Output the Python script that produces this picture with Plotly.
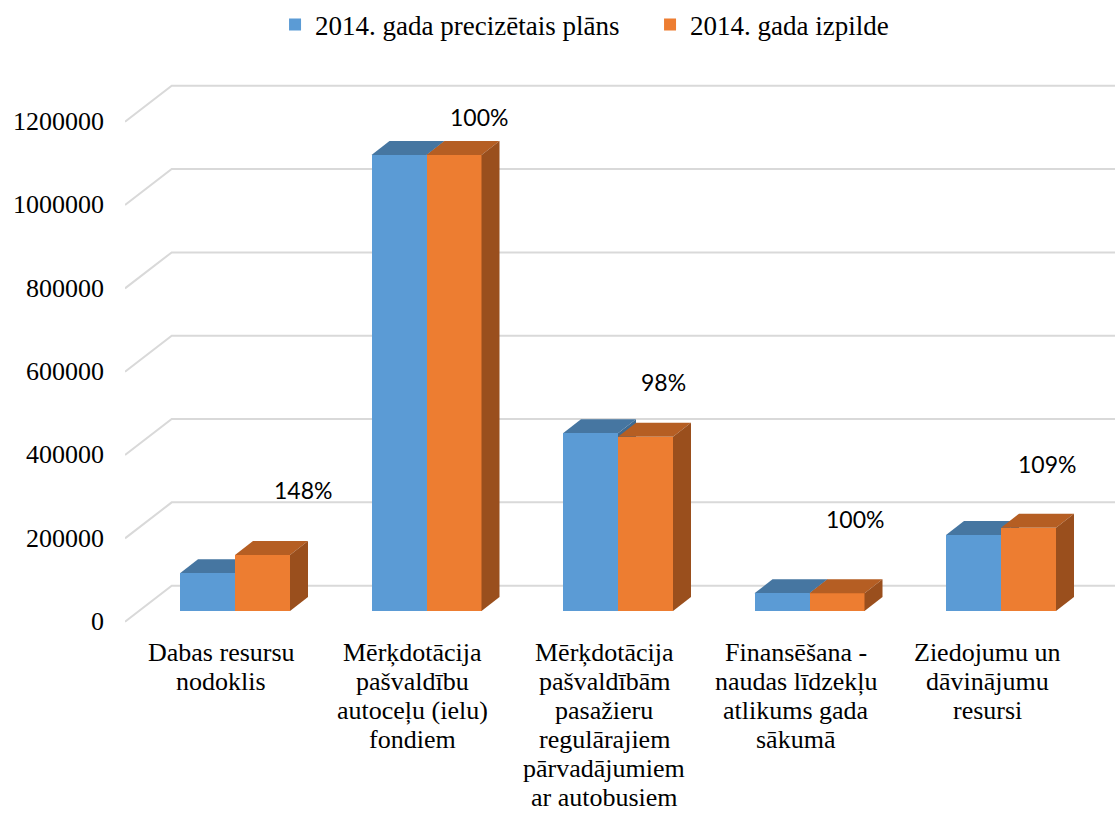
import plotly.graph_objects as go

# ---------------- data ----------------
category_lines = [
    ["Dabas resursu", "nodoklis"],
    ["Mērķdotācija", "pašvaldību", "autoceļu (ielu)", "fondiem"],
    ["Mērķdotācija", "pašvaldībām", "pasažieru", "regulārajiem", "pārvadājumiem", "ar autobusiem"],
    ["Finansēšana -", "naudas līdzekļu", "atlikums gada", "sākumā"],
    ["Ziedojumu un", "dāvinājumu", "resursi"],
]
series_names = ["2014. gada precizētais plāns", "2014. gada izpilde"]
plan_2014 = [90500, 1094400, 426500, 42500, 182400]
exec_2014 = [134300, 1094400, 418300, 42500, 199900]
pct_labels = ["148%", "100%", "98%", "100%", "109%"]
y_ticks = [0, 200000, 400000, 600000, 800000, 1000000, 1200000]

# ---------------- geometry (pixels) ----------------
W, H = 1115, 814
PLOT_L, PLOT_R, PLOT_T, PLOT_B = 125, 1115, 60, 640
BASE_PX = 611                 # pixel row of value 0 on bar front faces
K = 83.33 / 200000            # pixels per value unit
FIRST_CENTER_PX = 235
STEP_PX = 191.5
BAR_PX = 55
DEPTH_DX, DEPTH_DY = 18, 14   # bar depth projection
WALL_X_PX = 171.7             # back-wall left edge
WALL_UP_PX = 25.3             # back wall 0 line above bar base
DIAG_DY = 36                  # vertical drop of floor/side diagonals
CAT_FIRST_LINE_PX = 652
CAT_LINE_STEP = 29

LABEL_XSHIFT = [40, 25, 18, 18, 18]
LABEL_YSHIFT = [65, 38, 55, 74, 64]

C_BLUE, C_BLUE_TOP, C_BLUE_SIDE = "#5B9BD5", "#4676A1", "#3E6A91"
C_ORG, C_ORG_TOP, C_ORG_SIDE = "#ED7D31", "#B55E23", "#9A4F1D"
GRID = "#D9D9D9"
SERIF = "Liberation Serif, Times New Roman, serif"


def xu(px):
    return (px - FIRST_CENTER_PX) / STEP_PX


def yu_off(px):
    return px / K


bw = BAR_PX / STEP_PX
ddx = DEPTH_DX / STEP_PX
ddy = yu_off(DEPTH_DY)
x_idx = list(range(len(plan_2014)))

fig = go.Figure()
fig.add_trace(go.Bar(x=x_idx, y=plan_2014, width=bw, offset=-bw, name=series_names[0],
                     marker=dict(color=C_BLUE, line=dict(width=0))))
fig.add_trace(go.Bar(x=x_idx, y=exec_2014, width=bw, offset=0, name=series_names[1],
                     marker=dict(color=C_ORG, line=dict(width=0))))

shapes = []
# back wall gridlines + side diagonals
wall_x = xu(WALL_X_PX)
front_x = xu(PLOT_L)
x_right = xu(PLOT_R)
for t in y_ticks:
    yb = t + yu_off(WALL_UP_PX)
    yf = yb - yu_off(DIAG_DY)
    shapes.append(dict(type="path", path=f"M {front_x},{yf} L {wall_x},{yb} L {x_right},{yb}",
                       line=dict(color=GRID, width=2), layer="below"))


def para(xa, ya, xb, yb):
    # parallelogram from front edge (xa,ya)-(xb,yb) pushed back by depth
    return (f"M {xa},{ya} L {xb},{yb} L {xb + ddx},{yb + ddy} "
            f"L {xa + ddx},{ya + ddy} Z")


for i in x_idx:
    p, e = plan_2014[i], exec_2014[i]
    shapes.append(dict(type="path", path=para(i, 0, i, p), fillcolor=C_BLUE_SIDE,
                       line=dict(width=0), layer="between"))
    shapes.append(dict(type="path", path=para(i - bw, p, i, p), fillcolor=C_BLUE_TOP,
                       line=dict(width=0), layer="between"))
    shapes.append(dict(type="path", path=para(i, e, i + bw, e), fillcolor=C_ORG_TOP,
                       line=dict(width=0), layer="above"))
    shapes.append(dict(type="path", path=para(i + bw, 0, i + bw, e), fillcolor=C_ORG_SIDE,
                       line=dict(width=0), layer="above"))

annotations = []
for i in x_idx:
    annotations.append(dict(x=i + bw / 2, y=exec_2014[i], xref="x", yref="y", text=pct_labels[i],
                            showarrow=False, xshift=LABEL_XSHIFT[i], yshift=LABEL_YSHIFT[i],
                            font=dict(family="Lato", size=23, color="black"),
                            xanchor="center", yanchor="middle"))
    for k, line in enumerate(category_lines[i]):
        annotations.append(dict(x=i, y=0, xref="x", yref="y", text=line, showarrow=False,
                                xshift=-14,
                                yshift=-(CAT_FIRST_LINE_PX - BASE_PX) - CAT_LINE_STEP * k,
                                font=dict(family=SERIF, size=26, color="black"),
                                xanchor="center", yanchor="middle"))

fig.update_layout(
    width=W, height=H, autosize=False,
    margin=dict(l=PLOT_L, r=W - PLOT_R, t=PLOT_T, b=H - PLOT_B, pad=0),
    paper_bgcolor="white", plot_bgcolor="white",
    barmode="overlay", bargap=0,
    shapes=shapes, annotations=annotations,
    showlegend=True,
    legend=dict(orientation="h", xref="container", yref="container", x=0.583, y=1 - 25 / H,
                xanchor="center", yanchor="middle", traceorder="normal",
                entrywidth=330, entrywidthmode="pixels",
                font=dict(family=SERIF, size=27, color="black"), itemclick=False),
    xaxis=dict(range=[xu(PLOT_L), xu(PLOT_R)], showgrid=False, zeroline=False, showline=False,
               showticklabels=False, ticks="", fixedrange=True),
    yaxis=dict(range=[(BASE_PX - PLOT_B) / K, (BASE_PX - PLOT_T) / K], showgrid=False,
               zeroline=False, showline=False, tickmode="array", tickvals=y_ticks,
               ticktext=[str(v) for v in y_ticks], ticks="", ticklabelstandoff=20,
               ticklabelshift=10, tickfont=dict(family=SERIF, size=26, color="black"),
               fixedrange=True),
    font=dict(family=SERIF, color="black"),
)

fig.write_html("out.html", config={"displayModeBar": False},
               post_script="document.body.style.margin='0';")
